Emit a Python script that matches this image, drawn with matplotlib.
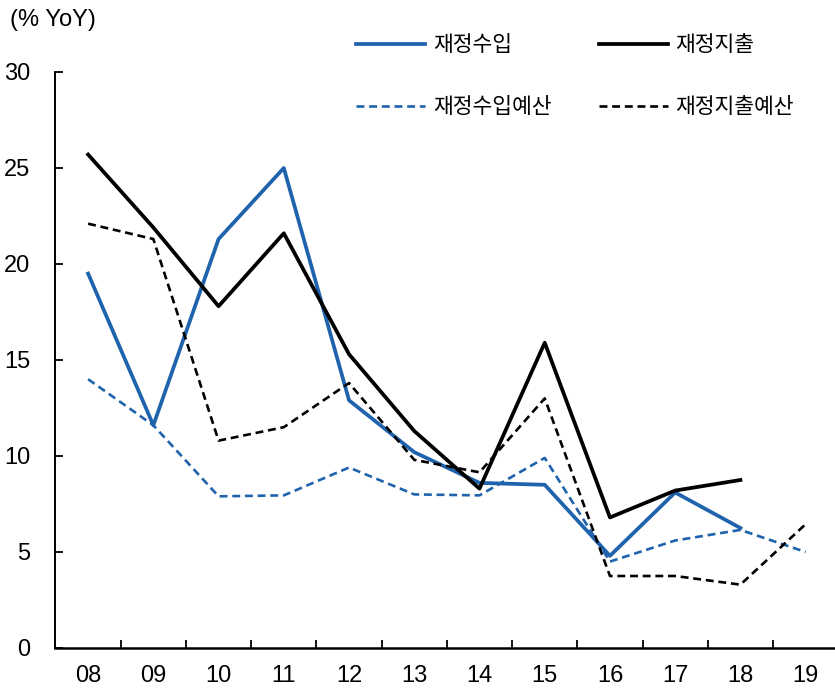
import matplotlib
matplotlib.use('Agg')
import matplotlib.pyplot as plt

plt.rcParams['font.family'] = ['Liberation Sans', 'Noto Sans CJK KR']

# years and series (% YoY)
years = ['08', '09', '10', '11', '12', '13', '14', '15', '16', '17', '18', '19']
revenue = [19.5, 11.6, 21.3, 25.0, 12.9, 10.2, 8.6, 8.5, 4.8, 8.1, 6.25]
spending = [25.7, 21.9, 17.8, 21.6, 15.3, 11.3, 8.3, 15.9, 6.8, 8.2, 8.75]
revenue_budget = [14.0, 11.6, 7.9, 7.95, 9.4, 8.0, 7.95, 9.9, 4.5, 5.6, 6.15, 5.0]
spending_budget = [22.1, 21.3, 10.8, 11.5, 13.8, 9.8, 9.15, 13.0, 3.75, 3.75, 3.3, 6.45]

blue = '#1f63ad'

fig = plt.figure(figsize=(8.35, 6.88), dpi=100)
ax = fig.add_axes([55.5 / 835, 40 / 688, 1 - 55.5 / 835, 576 / 688])

x_all = list(range(len(years)))
dash = (0, (3.0, 1.8))
l1, = ax.plot(x_all[:len(revenue)], revenue, color=blue, lw=2.7, label='재정수입')
l2, = ax.plot(x_all[:len(spending)], spending, color='black', lw=2.7, label='재정지출')
l3, = ax.plot(x_all, revenue_budget, color=blue, lw=1.9, ls=dash, label='재정수입예산')
l4, = ax.plot(x_all, spending_budget, color='black', lw=1.9, ls=dash, label='재정지출예산')

ax.set_xlim(-0.5, 11.45)
ax.set_ylim(0, 30)
ax.set_yticks([0, 5, 10, 15, 20, 25, 30])
ax.set_xticks([i + 0.5 for i in range(len(years) - 1)])
ax.set_xticklabels([])
ax.set_xticks(x_all, minor=True)
ax.set_xticklabels(years, minor=True)

ax.tick_params(axis='x', which='major', direction='in', length=6, width=1.3)
ax.tick_params(axis='x', which='minor', length=0, pad=12, labelsize=17)
ax.tick_params(axis='y', direction='in', length=6, width=1.3, pad=18, labelsize=17)

for s in ['top', 'right']:
    ax.spines[s].set_visible(False)
ax.spines['left'].set_linewidth(1.4)
ax.spines['bottom'].set_linewidth(1.8)

fig.text(10 / 835, 1 - 20 / 688, '(% YoY)', fontsize=17, va='center', ha='left')

leg = fig.legend(handles=[l1, l3, l2, l4], ncol=2, loc='upper left',
                 bbox_to_anchor=(337 / 835, 1 - 15 / 688), frameon=False,
                 handlelength=3.2, handletextpad=0.35,
                 columnspacing=2.2, labelspacing=1.85,
                 prop={'family': 'Noto Sans CJK KR', 'size': 15.5, 'weight': 'medium'})

fig.savefig('out.png', dpi=100)
